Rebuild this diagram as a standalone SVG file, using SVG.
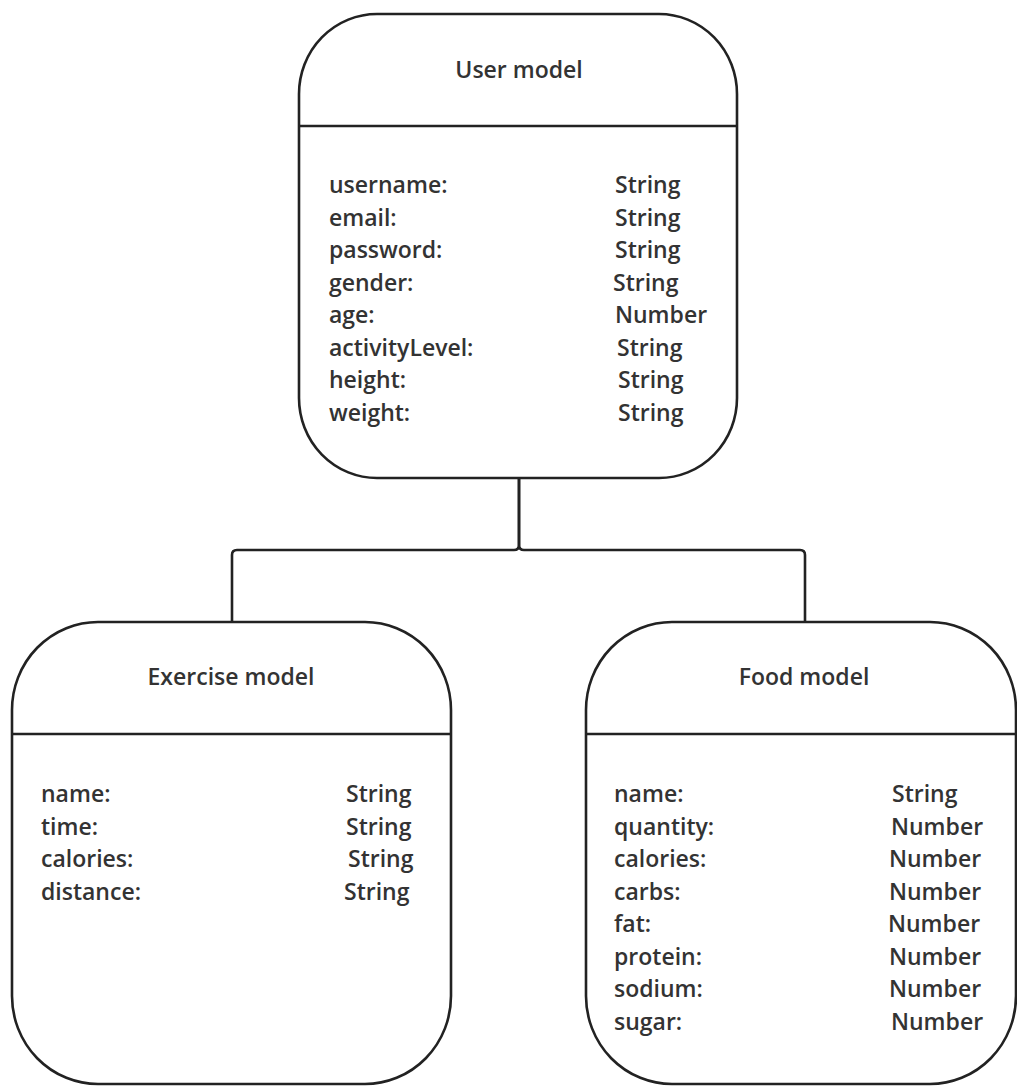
<svg xmlns="http://www.w3.org/2000/svg" width="1017" height="1086" viewBox="0 0 1017 1086">
<style>
.box{fill:#fff;stroke:#222;stroke-width:2.6}
.div{stroke:#222;stroke-width:2.6}
.conn{fill:none;stroke:#222;stroke-width:2.6}
text{font-family:"Open Sans","Noto Sans","Liberation Sans",sans-serif;font-weight:600;font-size:23px;fill:#333}
.title{text-anchor:middle;font-size:23px}
</style>
<rect width="1017" height="1086" fill="#fff"/>
<g id="connectors">
<path class="conn" d="M519 478 V545 Q519 550 514 550 H237 Q232 550 232 555 V622"/>
<path class="conn" d="M519 478 V545 Q519 550 524 550 H800 Q805 550 805 555 V622"/>
</g>
<g id="user">
<rect class="box" x="299" y="14" width="438" height="464" rx="78" ry="80"/>
<line class="div" x1="299" y1="126" x2="737" y2="126"/>
<text class="title" x="519" y="78">User model</text>
<text x="329" y="193">username:</text><text x="615" y="193">String</text>
<text x="329" y="226">email:</text><text x="615" y="226">String</text>
<text x="329" y="258">password:</text><text x="615" y="258">String</text>
<text x="329" y="291">gender:</text><text x="613" y="291">String</text>
<text x="329" y="323">age:</text><text x="615" y="323">Number</text>
<text x="329" y="356">activityLevel:</text><text x="617" y="356">String</text>
<text x="329" y="388">height:</text><text x="618" y="388">String</text>
<text x="329" y="421">weight:</text><text x="618" y="421">String</text>
</g>
<g id="exercise">
<rect class="box" x="12" y="622" width="439" height="462" rx="86" ry="88"/>
<line class="div" x1="12" y1="734" x2="451" y2="734"/>
<text class="title" x="231" y="685">Exercise model</text>
<text x="41" y="802">name:</text><text x="346" y="802">String</text>
<text x="41" y="835">time:</text><text x="346" y="835">String</text>
<text x="41" y="867">calories:</text><text x="348" y="867">String</text>
<text x="41" y="900">distance:</text><text x="344" y="900">String</text>
</g>
<g id="food">
<rect class="box" x="586" y="622" width="430" height="462" rx="86" ry="88"/>
<line class="div" x1="586" y1="734" x2="1016" y2="734"/>
<text class="title" x="804" y="685">Food model</text>
<text x="614" y="802">name:</text><text x="892" y="802">String</text>
<text x="614" y="835">quantity:</text><text x="891" y="835">Number</text>
<text x="614" y="867">calories:</text><text x="889" y="867">Number</text>
<text x="614" y="900">carbs:</text><text x="889" y="900">Number</text>
<text x="614" y="932">fat:</text><text x="888" y="932">Number</text>
<text x="614" y="965">protein:</text><text x="889" y="965">Number</text>
<text x="614" y="997">sodium:</text><text x="889" y="997">Number</text>
<text x="614" y="1030">sugar:</text><text x="891" y="1030">Number</text>
</g>
</svg>
